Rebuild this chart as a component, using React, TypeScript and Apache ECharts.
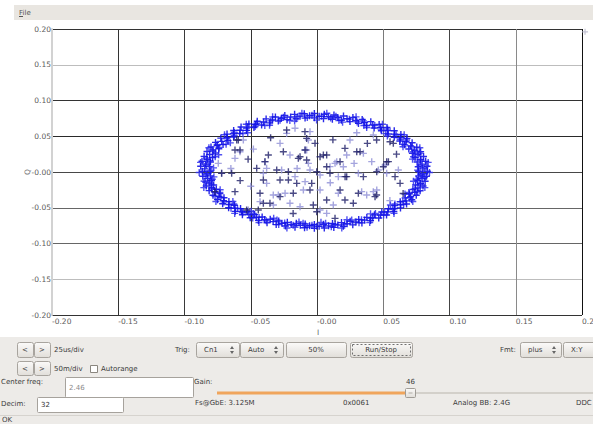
import React, { useEffect, useRef } from 'react';
import * as echarts from 'echarts';

// ---------- data ----------
const axisMin = -0.2;
const axisMax = 0.2;
const axisStep = 0.05;
const xTickLabels = ['-0.20', '-0.15', '-0.10', '-0.05', '-0.00', '0.05', '0.10', '0.15', '0.20'];
const yTickLabels = ['-0.20', '-0.15', '-0.10', '-0.05', '-0.00', '0.05', '0.10', '0.15', '0.20'];
const xAxisName = 'I';
const yAxisName = 'Q';

// I/Q samples on the ring
const ringPoints = [
  [0.0767,0.0010],[0.0833,0.0010],[0.0799,0.0044],[0.0764,0.0074],[0.0830,0.0080],[0.0793,0.0110],[0.0756,0.0139],[0.0820,0.0149],[0.0781,0.0177],[0.0740,0.0201],[0.0804,0.0217],[0.0762,0.0242],[0.0720,0.0262],[0.0782,0.0284],[0.0738,0.0305],[0.0693,0.0322],[0.0753,0.0348],[0.0707,0.0366],[0.0662,0.0380],[0.0718,0.0410],[0.0672,0.0424],[0.0625,0.0434],[0.0679,0.0470],[0.0631,0.0479],[0.0583,0.0485],[0.0633,0.0525],[0.0585,0.0530],[0.0537,0.0532],[0.0583,0.0576],[0.0534,0.0578],[0.0486,0.0576],[0.0528,0.0624],[0.0479,0.0621],[0.0431,0.0616],[0.0469,0.0666],[0.0421,0.0659],[0.0374,0.0650],[0.0406,0.0704],[0.0359,0.0693],[0.0313,0.0680],[0.0341,0.0736],[0.0294,0.0721],[0.0249,0.0705],[0.0271,0.0763],[0.0227,0.0744],[0.0184,0.0724],[0.0200,0.0784],[0.0157,0.0762],[0.0116,0.0738],[0.0128,0.0798],[0.0087,0.0773],[0.0049,0.0746],[0.0055,0.0808],[0.0016,0.0779],
  [-0.0020,0.0757],[-0.0020,0.0818],[-0.0056,0.0787],[-0.0090,0.0754],[-0.0096,0.0815],[-0.0128,0.0781],[-0.0158,0.0745],[-0.0169,0.0806],[-0.0199,0.0770],[-0.0226,0.0732],[-0.0243,0.0791],[-0.0269,0.0751],[-0.0292,0.0712],[-0.0314,0.0770],[-0.0337,0.0728],[-0.0357,0.0687],[-0.0384,0.0743],[-0.0403,0.0700],[-0.0418,0.0657],[-0.0451,0.0710],[-0.0465,0.0665],[-0.0476,0.0622],[-0.0514,0.0673],[-0.0524,0.0627],[-0.0531,0.0582],[-0.0573,0.0630],[-0.0580,0.0584],[-0.0583,0.0538],[-0.0629,0.0581],[-0.0631,0.0535],[-0.0629,0.0490],[-0.0679,0.0530],[-0.0678,0.0484],[-0.0672,0.0439],[-0.0726,0.0474],[-0.0719,0.0428],[-0.0709,0.0383],[-0.0766,0.0414],[-0.0754,0.0370],[-0.0741,0.0325],[-0.0800,0.0351],[-0.0786,0.0308],[-0.0768,0.0265],[-0.0830,0.0286],[-0.0810,0.0244],[-0.0788,0.0203],[-0.0852,0.0219],[-0.0829,0.0179],[-0.0804,0.0140],[-0.0868,0.0151],[-0.0841,0.0111],[-0.0812,0.0075],[-0.0878,0.0080],[-0.0847,0.0044],
  [-0.0807,0.0010],[-0.0865,0.0010],[-0.0831,-0.0024],[-0.0804,-0.0054],[-0.0862,-0.0059],[-0.0825,-0.0089],[-0.0796,-0.0119],[-0.0852,-0.0128],[-0.0813,-0.0155],[-0.0780,-0.0181],[-0.0836,-0.0195],[-0.0794,-0.0220],[-0.0760,-0.0242],[-0.0814,-0.0261],[-0.0770,-0.0282],[-0.0733,-0.0302],[-0.0785,-0.0325],[-0.0740,-0.0342],[-0.0702,-0.0360],[-0.0751,-0.0387],[-0.0705,-0.0400],[-0.0665,-0.0414],[-0.0712,-0.0445],[-0.0664,-0.0454],[-0.0623,-0.0465],[-0.0667,-0.0500],[-0.0619,-0.0505],[-0.0577,-0.0512],[-0.0617,-0.0550],[-0.0568,-0.0552],[-0.0526,-0.0556],[-0.0563,-0.0598],[-0.0514,-0.0595],[-0.0471,-0.0596],[-0.0504,-0.0640],[-0.0457,-0.0633],[-0.0414,-0.0630],[-0.0442,-0.0677],[-0.0395,-0.0666],[-0.0353,-0.0660],[-0.0377,-0.0709],[-0.0331,-0.0694],[-0.0289,-0.0685],[-0.0308,-0.0736],[-0.0265,-0.0717],[-0.0224,-0.0704],[-0.0238,-0.0756],[-0.0195,-0.0734],[-0.0156,-0.0718],[-0.0166,-0.0771],[-0.0126,-0.0745],[-0.0089,-0.0726],[-0.0094,-0.0780],[-0.0056,-0.0751],
  [-0.0020,-0.0733],[-0.0020,-0.0787],[0.0016,-0.0759],[0.0049,-0.0730],[0.0055,-0.0784],[0.0087,-0.0753],[0.0117,-0.0721],[0.0127,-0.0775],[0.0157,-0.0742],[0.0185,-0.0708],[0.0199,-0.0760],[0.0227,-0.0724],[0.0250,-0.0689],[0.0270,-0.0739],[0.0294,-0.0701],[0.0315,-0.0664],[0.0339,-0.0712],[0.0359,-0.0673],[0.0376,-0.0634],[0.0404,-0.0680],[0.0421,-0.0639],[0.0434,-0.0599],[0.0466,-0.0643],[0.0479,-0.0601],[0.0489,-0.0559],[0.0525,-0.0601],[0.0534,-0.0558],[0.0540,-0.0515],[0.0580,-0.0553],[0.0585,-0.0510],[0.0586,-0.0468],[0.0630,-0.0502],[0.0631,-0.0459],[0.0628,-0.0417],[0.0676,-0.0447],[0.0672,-0.0404],[0.0665,-0.0362],[0.0715,-0.0388],[0.0707,-0.0346],[0.0697,-0.0304],[0.0749,-0.0326],[0.0738,-0.0285],[0.0724,-0.0244],[0.0778,-0.0262],[0.0762,-0.0222],[0.0744,-0.0182],[0.0800,-0.0196],[0.0781,-0.0157],[0.0760,-0.0119],[0.0816,-0.0129],[0.0793,-0.0090],[0.0768,-0.0055],[0.0826,-0.0059],[0.0799,-0.0024],
];

// more ring samples, drawn between the ones above
const ringPoints2 = [
  [0.0759,0.0026],[0.0814,0.0061],[0.0779,0.0092],[0.0839,0.0134],[0.0784,0.0160],[0.0721,0.0180],[0.0728,0.0214],[0.0772,0.0263],[0.0729,0.0283],[0.0776,0.0339],[0.0715,0.0351],[0.0649,0.0354],[0.0646,0.0389],[0.0676,0.0447],[0.0628,0.0456],[0.0658,0.0521],[0.0597,0.0518],[0.0531,0.0505],[0.0519,0.0538],[0.0532,0.0601],[0.0483,0.0599],[0.0494,0.0668],[0.0436,0.0650],[0.0375,0.0622],[0.0354,0.0651],[0.0350,0.0715],[0.0303,0.0701],[0.0295,0.0771],[0.0244,0.0739],[0.0193,0.0697],[0.0165,0.0721],[0.0143,0.0780],[0.0103,0.0756],[0.0074,0.0821],[0.0034,0.0778],[-0.0003,0.0726],
  [-0.0038,0.0795],[-0.0073,0.0763],[-0.0114,0.0821],[-0.0145,0.0771],[-0.0169,0.0712],[-0.0205,0.0721],[-0.0254,0.0764],[-0.0279,0.0724],[-0.0335,0.0771],[-0.0350,0.0715],[-0.0358,0.0653],[-0.0394,0.0651],[-0.0454,0.0681],[-0.0467,0.0637],[-0.0534,0.0668],[-0.0533,0.0611],[-0.0523,0.0548],[-0.0559,0.0538],[-0.0624,0.0553],[-0.0625,0.0508],[-0.0698,0.0521],[-0.0681,0.0465],[-0.0654,0.0408],[-0.0686,0.0389],[-0.0753,0.0387],[-0.0740,0.0344],[-0.0816,0.0339],[-0.0784,0.0289],[-0.0742,0.0241],[-0.0768,0.0214],[-0.0833,0.0197],[-0.0808,0.0157],[-0.0879,0.0134],[-0.0835,0.0094],[-0.0781,0.0057],[-0.0799,0.0026],
  [-0.0889,-0.0008],[-0.0838,-0.0040],[-0.0778,-0.0068],[-0.0790,-0.0101],[-0.0840,-0.0143],[-0.0801,-0.0169],[-0.0854,-0.0218],[-0.0796,-0.0238],[-0.0731,-0.0249],[-0.0733,-0.0285],[-0.0770,-0.0338],[-0.0725,-0.0353],[-0.0763,-0.0413],[-0.0702,-0.0418],[-0.0635,-0.0413],[-0.0628,-0.0448],[-0.0649,-0.0508],[-0.0600,-0.0511],[-0.0621,-0.0579],[-0.0561,-0.0569],[-0.0497,-0.0549],[-0.0481,-0.0580],[-0.0485,-0.0643],[-0.0437,-0.0635],[-0.0438,-0.0706],[-0.0383,-0.0681],[-0.0327,-0.0646],[-0.0302,-0.0672],[-0.0289,-0.0734],[-0.0244,-0.0714],[-0.0227,-0.0783],[-0.0180,-0.0745],[-0.0136,-0.0698],[-0.0105,-0.0717],[-0.0075,-0.0773],[-0.0038,-0.0745],
  [-0.0002,-0.0760],[0.0030,-0.0704],[0.0065,-0.0717],[0.0108,-0.0766],[0.0137,-0.0730],[0.0187,-0.0783],[0.0209,-0.0729],[0.0226,-0.0668],[0.0262,-0.0672],[0.0317,-0.0709],[0.0336,-0.0667],[0.0398,-0.0706],[0.0405,-0.0648],[0.0404,-0.0585],[0.0441,-0.0580],[0.0503,-0.0603],[0.0510,-0.0557],[0.0581,-0.0579],[0.0572,-0.0522],[0.0554,-0.0462],[0.0588,-0.0448],[0.0654,-0.0454],[0.0648,-0.0409],[0.0723,-0.0413],[0.0699,-0.0360],[0.0664,-0.0307],[0.0693,-0.0285],[0.0759,-0.0275],[0.0740,-0.0233],[0.0814,-0.0218],[0.0777,-0.0173],[0.0728,-0.0130],[0.0750,-0.0101],[0.0811,-0.0076],[0.0782,-0.0039],[0.0849,-0.0008],
];

// recent samples inside the ring (dark)
const innerDark = [
  [-0.0606,0.0447],[-0.0581,0.0307],[-0.0367,0.0237],[-0.0254,0.0284],[-0.0141,0.0191],[-0.0090,0.0307],[-0.0078,0.0168],[-0.0015,0.0401],[-0.0078,0.0470],[0.0073,0.0237],[0.0211,0.0331],[0.0300,0.0284],[0.0450,0.0447],[0.0501,0.0074],[0.0526,0.0144],[0.0576,0.0401],[0.0589,-0.0065],[-0.0644,-0.0019],[-0.0455,0.0051],[-0.0304,0.0028],[-0.0279,-0.0112],[-0.0216,-0.0112],[-0.0153,-0.0159],[-0.0040,-0.0159],[-0.0002,0.0004],[0.0073,0.0074],[0.0174,0.0144],[0.0098,-0.0019],[0.0224,-0.0065],[0.0350,-0.0065],[0.0174,-0.0252],[0.0312,-0.0298],[0.0450,-0.0322],[0.0211,-0.0392],[0.0073,-0.0392],[-0.0053,-0.0252],[-0.0179,-0.0298],[-0.0279,-0.0345],[-0.0355,-0.0438],[-0.0430,-0.0298],[-0.0405,-0.0112],[-0.0619,-0.0275],[-0.0443,-0.0531],[-0.0002,-0.0555],[0.0136,-0.0648],[-0.0028,-0.0461],[0.0274,-0.0438],[0.0048,0.0238],[0.0212,-0.0065],[0.0325,0.0284],[0.0451,0.0005],[0.0539,0.0145],[0.0627,-0.0159],[0.0438,-0.0345],[0.0551,0.0424],[-0.0594,0.0448],[-0.0619,0.0308],[-0.0393,0.0145],[-0.0720,-0.0019],[-0.0770,-0.0275],[-0.0531,-0.0531],[-0.0405,-0.0438],[-0.0229,0.0587],[-0.0091,0.0564],[-0.0128,0.0214],[0.0023,0.0214],[-0.0216,0.0005],
  [-0.0580,-0.0120],[-0.0520,0.0180],[0.0600,0.0250],[0.0650,-0.0300],[0.0380,0.0400],[-0.0350,0.0480],[0.0120,0.0450],[-0.0180,-0.0580],
];

// older samples inside the ring (faded)
const innerFaded = [
  [-0.0619,0.0191],[-0.0392,0.0144],[-0.0204,0.0237],[-0.0065,0.0121],[-0.0053,0.0564],[-0.0229,0.0540],[0.0224,0.0237],[0.0350,0.0261],[0.0425,0.0517],[0.0463,0.0028],[0.0526,-0.0019],[-0.0719,-0.0019],[-0.0405,-0.0019],[-0.0166,-0.0065],[-0.0090,-0.0135],[-0.0053,0.0028],[0.0023,-0.0042],[0.0136,0.0121],[0.0199,0.0074],[0.0161,-0.0065],[0.0312,-0.0019],[0.0161,-0.0298],[0.0425,-0.0275],[0.0375,-0.0322],[0.0123,-0.0461],[0.0023,-0.0252],[-0.0103,-0.0252],[-0.0241,-0.0298],[-0.0329,-0.0461],[-0.0430,-0.0415],[-0.0380,-0.0159],[-0.0518,-0.0531],[-0.0128,-0.0485],[0.0023,-0.0531],[0.0073,-0.0578],[0.0287,-0.0695],[-0.0292,-0.0322],[-0.0204,-0.0438],[-0.0065,0.0448],[-0.0090,0.0308],[0.0098,0.0075],[0.0149,0.0145],[0.0249,0.0448],[0.0413,0.0145],[0.0514,0.0098],[0.0614,0.0028],[0.0337,-0.0275],[0.0451,-0.0252],[-0.0556,0.0448],[-0.0581,0.0284],[-0.0380,0.0051],[-0.0745,0.0121],[-0.0330,-0.0322],[-0.0267,0.0028],[-0.0166,0.0611],[-0.0078,0.0308],[-0.0279,0.0401],
  [-0.0500,-0.0200],[-0.0650,0.0050],[0.0300,0.0550],[0.0550,-0.0400],[0.0100,-0.0150],[-0.0150,0.0050],[0.0280,0.0120],[-0.0480,0.0320],
];

// stray sample at the top-right corner
const strayPoints = [[0.2023, 0.1960]];

// ---------- styling helpers (GUI chrome) ----------
const FONT = 'DejaVu Sans';
const PLUS = 'path://M0,2.8H2.8V0H4.2V2.8H7V4.2H4.2V7H2.8V4.2H0Z';

function T(x: number, y: number, s: string, extra: any = {}, el: any = {}) {
  return {
    type: 'text', x, y, z: 30, silent: true, ...el,
    style: { text: s, fontFamily: FONT, fontSize: 7, fill: '#3b3b3b', align: 'left', verticalAlign: 'middle', ...extra },
  };
}
const btnFill = { type: 'linear', x: 0, y: 0, x2: 0, y2: 1, colorStops: [{ offset: 0, color: '#fbfaf9' }, { offset: 1, color: '#e1ded9' }] };
function Btn(x: number, y: number, w: number, h: number, label: string, focus = false) {
  const els: any[] = [
    { type: 'rect', z: 25, silent: true, shape: { x: x + 0.5, y: y + 0.5, width: w, height: h, r: 2 }, style: { fill: btnFill, stroke: '#a8a49e', lineWidth: 1 } },
  ];
  if (focus) {
    els.push({ type: 'rect', z: 26, silent: true, shape: { x: x + 2.5, y: y + 2.5, width: w - 4, height: h - 4 }, style: { fill: 'none', stroke: '#707070', lineWidth: 1, lineDash: [2, 2] } });
  }
  if (label) els.push(T(x + w / 2, y + h / 2 + 0.5, label, { align: 'center' }));
  return els;
}
function Combo(x: number, y: number, w: number, h: number, label: string) {
  const cy = y + h / 2 + 0.5;
  const ax = x + w - 7;
  return [
    ...Btn(x, y, w, h, ''),
    T(x + 8, cy, label),
    { type: 'polygon', z: 30, silent: true, shape: { points: [[ax - 2, cy - 1], [ax + 2, cy - 1], [ax, cy - 4]] }, style: { fill: '#666' } },
    { type: 'polygon', z: 30, silent: true, shape: { points: [[ax - 2, cy + 1], [ax + 2, cy + 1], [ax, cy + 4]] }, style: { fill: '#666' } },
  ];
}
function Box(x: number, y: number, w: number, h: number) {
  return { type: 'rect', z: 25, silent: true, shape: { x: x + 0.5, y: y + 0.5, width: w, height: h, r: 1 }, style: { fill: '#ffffff', stroke: '#a6a29c', lineWidth: 1 } };
}

function buildGraphic() {
  const g: any[] = [];
  // axis names
  g.push(T(27, 172, yAxisName, { align: 'center', fontSize: 7.5, fill: '#777' }, { rotation: Math.PI / 2, z: 5 }));
  g.push(T(318, 332, xAxisName, { align: 'center', fontSize: 7.5, fill: '#666' }, { z: 5 }));
  // menu bar
  g.push({ type: 'rect', z: 20, silent: true, shape: { x: 14, y: 5, width: 579, height: 15 }, style: { fill: '#e9e6e1' } });
  g.push(T(19, 12.5, 'File', { fill: '#555' }));
  g.push({ type: 'line', z: 30, silent: true, shape: { x1: 19, y1: 16.5, x2: 23, y2: 16.5 }, style: { stroke: '#555', lineWidth: 1 } });
  // control panel background
  g.push({ type: 'rect', z: 20, silent: true, shape: { x: 0, y: 337, width: 593, height: 87 }, style: { fill: '#edebe8' } });
  // row 1
  g.push(...Btn(17, 342, 16, 15, '<'));
  g.push(...Btn(34, 342, 16, 15, '>'));
  g.push(T(54, 350, '25us/div'));
  g.push(T(175, 350, 'Trig:'));
  g.push(...Combo(196, 342, 43, 15, 'Cn1'));
  g.push(...Combo(240, 342, 43, 15, 'Auto'));
  g.push(...Btn(286, 342, 60, 15, '50%'));
  g.push(...Btn(350, 342, 62, 15, 'Run/Stop', true));
  g.push(T(500, 350, 'Fmt:'));
  g.push(...Combo(520, 342, 41, 15, 'plus'));
  g.push(...Combo(563, 342, 40, 15, 'X:Y'));
  // row 2
  g.push(...Btn(17, 361, 16, 14, '<'));
  g.push(...Btn(34, 361, 16, 14, '>'));
  g.push(T(54, 368.5, '50m/div'));
  g.push({ type: 'rect', z: 25, silent: true, shape: { x: 90.5, y: 365.5, width: 7, height: 7 }, style: { fill: '#ffffff', stroke: '#8a867f', lineWidth: 1 } });
  g.push(T(101, 368.5, 'Autorange'));
  // row 3
  g.push(T(1, 382, 'Center freq:'));
  g.push(Box(65, 377, 128, 20));
  g.push(T(69, 388, '2.46', { fill: '#8a8a8a' }));
  g.push(T(194, 382, 'Gain:'));
  g.push({ type: 'rect', z: 25, silent: true, shape: { x: 217, y: 391.5, width: 190, height: 3 }, style: { fill: '#f0a55c' } });
  g.push({ type: 'rect', z: 25, silent: true, shape: { x: 414, y: 392, width: 179, height: 2 }, style: { fill: '#d3d0ca' } });
  g.push({ type: 'rect', z: 27, silent: true, shape: { x: 405.5, y: 388.5, width: 10, height: 9, r: 1 }, style: { fill: btnFill, stroke: '#a09c96', lineWidth: 1 } });
  g.push({ type: 'line', z: 28, silent: true, shape: { x1: 408.5, y1: 393, x2: 412.5, y2: 393 }, style: { stroke: '#b0aca6', lineWidth: 1 } });
  g.push(T(410.5, 382, '46', { align: 'center' }));
  // row 4
  g.push(T(1, 404, 'Decim:'));
  g.push(Box(37, 397, 86, 15));
  g.push(T(41, 404.5, '32', { fill: '#333' }));
  g.push(T(195, 403, 'Fs@GbE: 3.125M'));
  g.push(T(343, 403, '0x0061'));
  g.push(T(453, 403, 'Analog BB: 2.4G'));
  g.push(T(576, 403, 'DDC'));
  // status bar
  g.push({ type: 'line', z: 26, silent: true, shape: { x1: 0, y1: 415.5, x2: 593, y2: 415.5 }, style: { stroke: '#d6d3ce', lineWidth: 1 } });
  g.push(T(2, 419.5, 'OK', { fill: '#444' }));
  return g;
}

function tickIndex(v: number) {
  return Math.round((v - axisMin) / axisStep);
}

export default function App() {
  const ref = useRef<HTMLDivElement>(null);
  useEffect(() => {
    if (!ref.current) return;
    const chart = echarts.init(ref.current, undefined, { renderer: 'svg' });
    chart.setOption({
      animation: false,
      backgroundColor: '#ffffff',
      grid: { left: 52, right: 11, top: 29, bottom: 109, containLabel: false, outerBoundsMode: 'none' },
      xAxis: {
        type: 'value', min: axisMin, max: axisMax, interval: axisStep,
        axisLine: { show: false, onZero: false }, axisTick: { show: false },
        axisLabel: { formatter: (v: number) => xTickLabels[tickIndex(v)], align: 'left', margin: 2, fontFamily: FONT, fontSize: 7.5, color: '#5a5a5a' },
        splitLine: { show: true, lineStyle: { width: 1, color: ['#d0d0d0', '#333333', '#3a3a3a', '#333333', '#3c3c3c', '#7a7a7a', '#444444', '#8a8a8a', '#111111'] } },
      },
      yAxis: {
        type: 'value', min: axisMin, max: axisMax, interval: axisStep,
        axisLine: { show: true, onZero: false, lineStyle: { color: '#d2d2d2', width: 2 } }, axisTick: { show: false },
        axisLabel: { formatter: (v: number) => yTickLabels[tickIndex(v)], margin: 1, fontFamily: FONT, fontSize: 7.5, color: '#5a5a5a' },
        splitLine: { show: true, lineStyle: { width: 1, color: ['#333333', '#bdbdbd', '#666666', '#666666', '#474747', '#2a2a2a', '#333333', '#bdbdbd', '#333333'] } },
      },
      series: [
        { type: 'scatter', data: innerFaded, symbol: PLUS, symbolSize: 7, itemStyle: { color: '#8f8fd6' }, silent: true },
        { type: 'scatter', data: ringPoints2, symbol: PLUS, symbolSize: 7, itemStyle: { color: '#3333ee', opacity: 0.85 }, silent: true },
        { type: 'scatter', data: ringPoints, symbol: PLUS, symbolSize: 7, itemStyle: { color: '#1212e6', opacity: 0.9 }, silent: true },
        { type: 'scatter', data: innerDark, symbol: PLUS, symbolSize: 7, itemStyle: { color: '#1d1d66' }, silent: true },
        { type: 'scatter', data: strayPoints, symbol: PLUS, symbolSize: 6, clip: false, itemStyle: { color: '#b4b4c8' }, silent: true },
      ],
      graphic: buildGraphic(),
    });
    return () => chart.dispose();
  }, []);
  return <div ref={ref} style={{ position: 'fixed', left: 0, top: 0, width: 593, height: 424 }} />;
}
